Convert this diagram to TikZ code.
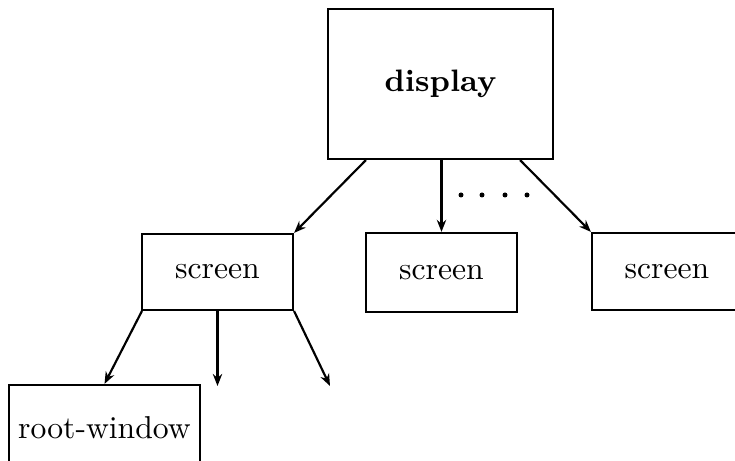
\documentclass[tikz,border=0pt]{standalone}
\usetikzlibrary{arrows.meta}
\begin{document}
\begin{tikzpicture}[x=0.3pt,y=-0.3pt,
  box/.style={draw,line width=0.65pt,inner sep=0pt,font=\fontsize{9.5}{11}\selectfont},
  arr/.style={line width=0.65pt,-{Stealth[length=3.6pt,width=2.8pt]}}]
\useasboundingbox (0,0) rectangle (735,461);
\node[box,minimum width=67.5pt,minimum height=45pt,font=\fontsize{9.3}{11}\selectfont\bfseries] (display) at (440.5,84) {display};
\node[box,minimum width=45.3pt,minimum height=22.8pt] (s1) at (217.5,272) {screen};
\node[box,minimum width=45.3pt,minimum height=23.7pt] (s2) at (441.5,272.5) {screen};
\node[box,minimum width=45pt,minimum height=23.1pt] (s3) at (667,271.5) {screen};
\node[box,minimum width=57.3pt,minimum height=25.8pt] (root) at (104.5,428) {root-window};
\coordinate (c1) at (217.5,386);
\coordinate (c2) at (330,386);
\draw[arr] ([xshift=11.7pt]display.south west) -- (s1.north east);
\draw[arr] (s2.north |- display.south) -- (s2.north);
\draw[arr] ([xshift=-10.2pt]display.south east) -- (s3.north west);
\draw[arr] ([xshift=0.3pt]s1.south west) -- (root.north);
\draw[arr] (s1.south) -- (c1);
\draw[arr] (s1.south east) -- (c2);
\foreach \x in {461,482,505,527} \fill (\x,195) circle (0.75pt);
\end{tikzpicture}
\end{document}
